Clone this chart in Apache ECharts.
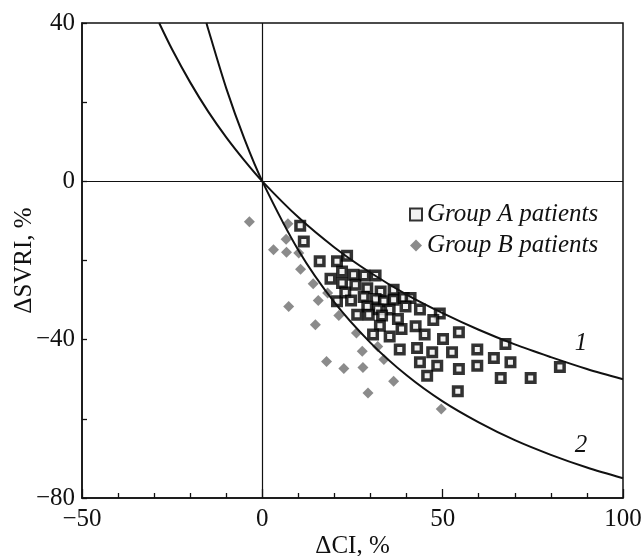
<!DOCTYPE html>
<html>
<head>
<meta charset="utf-8">
<script src="https://cdn.jsdelivr.net/npm/echarts@6/dist/echarts.min.js"></script>
<style>
  html, body { margin: 0; padding: 0; background: #fff; }
  #chart { width: 644px; height: 556px; }
</style>
</head>
<body>
<div id="chart"></div>
<script>
// ΔCI (%) / ΔSVRI (%) pairs
const groupA = [
  [10.5, -11.2], [11.5, -15.2], [15.9, -20.2], [20.7, -20.2], [18.9, -24.6],
  [20.7, -30.3], [23.5, -18.8], [22.1, -22.8], [25.3, -23.6], [28.3, -23.8],
  [31.4, -23.8], [22.1, -25.7], [25.8, -26.1], [29.1, -27.0], [32.8, -27.8],
  [36.4, -27.4], [23.0, -28.1], [28.1, -29.2], [31.4, -29.7], [33.7, -30.3],
  [36.4, -29.9], [39.2, -29.5], [41.1, -29.5], [24.6, -30.1], [29.1, -31.6],
  [32.0, -32.3], [35.3, -32.4], [39.7, -31.6], [43.7, -32.4], [49.2, -33.4],
  [47.4, -35.0], [26.3, -33.7], [29.5, -33.7], [33.2, -33.9], [37.6, -34.8],
  [32.6, -36.5], [38.6, -37.3], [42.5, -36.6], [30.7, -38.7], [35.3, -39.2],
  [45.0, -38.7], [50.1, -39.8], [54.5, -38.1], [38.1, -42.5], [42.9, -42.1],
  [47.1, -43.2], [52.6, -43.2], [43.7, -45.7], [48.5, -46.6], [54.5, -47.4],
  [45.7, -49.1], [54.2, -53.0], [59.6, -42.5], [59.6, -46.6], [67.4, -41.1],
  [64.2, -44.6], [68.8, -45.7], [66.1, -49.7], [82.5, -46.9], [74.4, -49.7]
];

const groupB = [
  [-3.6, -10.2], [7.1, -10.7], [6.6, -14.6], [3.1, -17.3], [6.7, -17.9],
  [10.1, -18.1], [10.6, -22.2], [14.1, -25.9], [15.5, -30.1], [7.3, -31.6],
  [18.1, -28.2], [21.2, -33.9], [14.7, -36.2], [26.1, -38.3], [27.7, -42.9],
  [17.8, -45.5], [22.6, -47.3], [27.9, -47.0], [29.3, -53.5], [32.0, -41.7],
  [33.7, -45.0], [36.4, -50.5], [49.6, -57.5]
];

// reference curves 1 and 2
const curve1 = [
  [-28.6, 40], [-25, 33.3], [-20, 25], [-15, 17.6], [-10, 11.1], [-5, 5.3],
  [0, 0], [10, -9.1], [20, -16.7], [30, -23.1], [40, -28.6], [50, -33.3],
  [60, -37.5], [70, -41.2], [80, -44.4], [90, -47.4], [100, -50]
];
const curve2 = [
  [-15.5, 40], [-15, 38.4], [-10, 23.5], [-5, 10.8], [0, 0], [10, -17.4],
  [20, -30.6], [30, -40.8], [40, -49.0], [50, -55.6], [60, -60.9],
  [70, -65.4], [80, -69.1], [90, -72.3], [100, -75]
];

const curveNames = ['1', '2'];
const legendNames = ['Group A patients', 'Group B patients'];

const serif = '"Liberation Serif", "DejaVu Serif", serif';
const ink = '#111';
const fontSize = 25;

function minus(v) {
  return v < 0 ? '\u2212' + (-v) : String(v);
}

// number each curve next to its point at ΔCI = 90
function curveTag(data, name, offset) {
  const p = data.find(d => d[0] === 90);
  return {
    silent: true,
    symbol: 'circle', symbolSize: 0,
    label: {
      show: true, formatter: name, position: 'inside', offset: offset,
      fontFamily: serif, fontStyle: 'italic', fontSize: fontSize, color: ink
    },
    data: [{ coord: p }]
  };
}

const chart = echarts.init(document.getElementById('chart'));

chart.setOption({
  animation: false,
  backgroundColor: '#fff',
  grid: {
    left: 82, right: 21, top: 23, bottom: 58,
    containLabel: false, outerBoundsMode: 'none',
    show: true, borderColor: ink, borderWidth: 1.5, backgroundColor: 'transparent'
  },
  legend: {
    data: [
      { name: legendNames[0], icon: 'rect' },
      { name: legendNames[1], icon: 'diamond' }
    ],
    orient: 'vertical',
    left: 404, top: 197,
    itemWidth: 12, itemHeight: 12, itemGap: 6,
    textStyle: { fontFamily: serif, fontStyle: 'italic', fontSize: fontSize, color: ink }
  },
  xAxis: {
    type: 'value', min: -50, max: 100, interval: 50,
    name: '\u0394CI, %', nameLocation: 'middle', nameGap: 36, nameMoveOverlap: false,
    nameTextStyle: { fontFamily: serif, fontSize: fontSize, color: ink },
    axisLine: { onZero: false, lineStyle: { color: ink, width: 1.5 } },
    axisTick: { inside: true, length: 9, lineStyle: { color: ink, width: 1.3 } },
    minorTick: { show: true, splitNumber: 5, length: 5, lineStyle: { color: ink, width: 1.3 } },
    axisLabel: { formatter: minus, margin: 9, fontFamily: serif, fontSize: fontSize, color: ink },
    splitLine: { show: false }
  },
  yAxis: {
    type: 'value', min: -80, max: 40, interval: 40,
    name: '\u0394SVRI, %', nameLocation: 'middle', nameGap: 45, nameMoveOverlap: false,
    nameTextStyle: { fontFamily: serif, fontSize: fontSize, color: ink },
    axisLine: { onZero: false, lineStyle: { color: ink, width: 1.5 } },
    axisTick: { inside: true, length: 5, lineStyle: { color: ink, width: 1.3 } },
    minorTick: { show: true, splitNumber: 2, length: 5, lineStyle: { color: ink, width: 1.3 } },
    axisLabel: { formatter: minus, margin: 7, fontFamily: serif, fontSize: fontSize, color: ink },
    splitLine: { show: false }
  },
  series: [
    {
      name: 'zero',
      type: 'line', data: [], silent: true,
      markLine: {
        silent: true, symbol: 'none', label: { show: false },
        lineStyle: { color: ink, width: 1.2, type: 'solid' },
        data: [{ xAxis: 0 }, { yAxis: 0 }]
      }
    },
    {
      name: curveNames[0], type: 'line', data: curve1,
      smooth: 0.3, showSymbol: false, symbol: 'none', silent: true,
      lineStyle: { color: ink, width: 2 },
      markPoint: curveTag(curve1, curveNames[0], [-6, -26])
    },
    {
      name: curveNames[1], type: 'line', data: curve2,
      smooth: 0.3, showSymbol: false, symbol: 'none', silent: true,
      lineStyle: { color: ink, width: 2 },
      markPoint: curveTag(curve2, curveNames[1], [-6, -22])
    },
    {
      name: legendNames[1], type: 'scatter', data: groupB,
      symbol: 'diamond', symbolSize: 11,
      itemStyle: { color: '#6e6e6e' }
    },
    {
      name: legendNames[0], type: 'scatter', data: groupA,
      symbol: 'rect', symbolSize: 8.5,
      itemStyle: { color: '#eeeeee', borderColor: '#000', borderWidth: 3.5 }
    }
  ]
});
</script>
</body>
</html>
